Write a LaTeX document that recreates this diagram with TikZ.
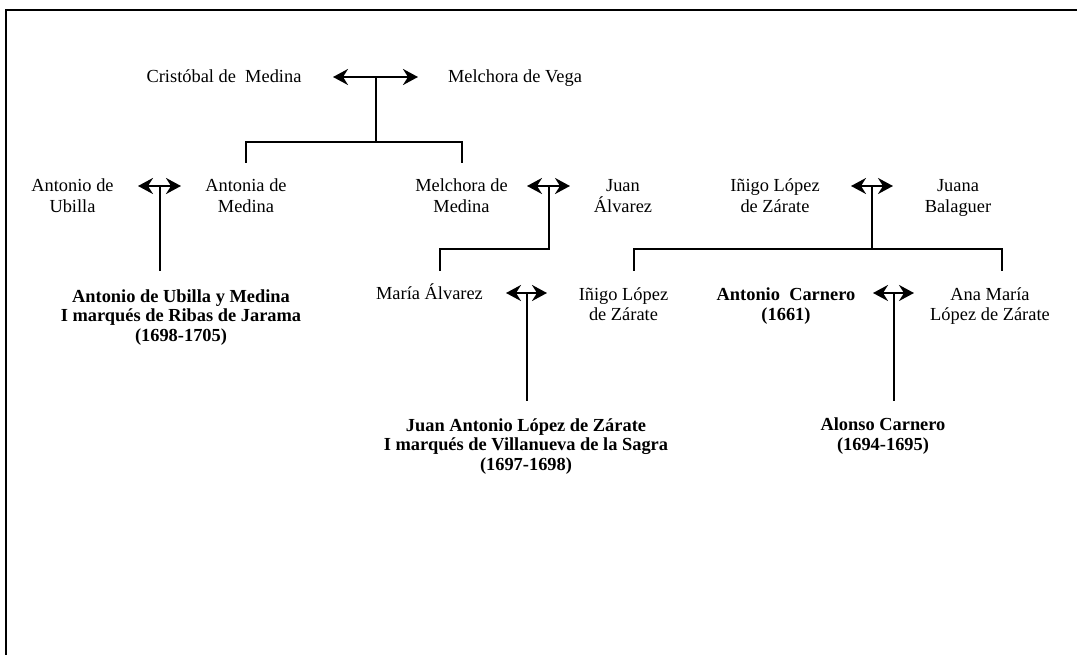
\documentclass[tikz,border=0pt]{standalone}
\usepackage{fontspec}
\setmainfont{Liberation Serif}
\usetikzlibrary{arrows.meta}
\begin{document}
\begin{tikzpicture}[x=1pt,y=-1pt,
  % the base anchor of a multi-line node sits on its last line
  person/.style={align=center,inner sep=0pt,anchor=base,
    font=\fontsize{18.4}{20.5}\selectfont},
  heir/.style={person,font=\fontsize{18.4}{19.7}\selectfont\bfseries},
  link/.style={line width=2pt},
  wed/.style={line width=2.2pt,
    {Stealth[length=15pt,width=16pt,inset=5pt]}-{Stealth[length=15pt,width=16pt,inset=5pt]}},
]
\useasboundingbox (0,0) rectangle (1077,655);
% page frame (top and left rules)
\draw[line width=2pt] (1080,10) -- (6,10) -- (6,658);

% ---- generation 1
\node[person] (cristobal) at (224,83) {Cristóbal de\ \ Medina};
\node[person] (melchoraV) at (515,83) {Melchora de Vega};
\coordinate (w1l) at (333,77);
\coordinate (w1r) at (418,77);
\coordinate (w1)  at (375.5,77);
\coordinate (b1)  at (375.5,142);
\coordinate (d1a) at (246,163);
\coordinate (d1b) at (462,163);
\draw[wed] (w1l) -- (w1r);
\draw[link] (w1) -- (b1);
\draw[link] (d1a) |- (b1) -| (d1b);

% ---- generation 2
\node[person] (ubilla)    at (72.5,212.5) {Antonio de\\Ubilla};
\node[person] (antonia)   at (246,212.5)  {Antonia de\\Medina};
\node[person] (melchoraM) at (461.5,212.5) {Melchora de\\Medina};
\node[person] (juanA)     at (623,212.5)  {Juan\\Álvarez};
\node[person] (inigo1)    at (775,212.5)  {Iñigo López\\de Zárate};
\node[person] (juana)     at (958,212.5)  {Juana\\Balaguer};

% Ubilla -- Antonia de Medina
\coordinate (w2l) at (138,186);
\coordinate (w2r) at (181,186);
\coordinate (w2)  at (160,186);
\coordinate (c2)  at (160,271);
\draw[wed] (w2l) -- (w2r);
\draw[link] (w2) -- (c2);

% Melchora de Medina -- Juan Alvarez
\coordinate (w3l) at (527,186);
\coordinate (w3r) at (570,186);
\coordinate (w3)  at (548.5,186);
\coordinate (b3)  at (548.5,249);
\coordinate (c3)  at (440,271);
\draw[wed] (w3l) -- (w3r);
\draw[link] (w3) -- (b3) -| (c3);

% Inigo Lopez -- Juana Balaguer
\coordinate (w4l) at (851,186);
\coordinate (w4r) at (893,186);
\coordinate (w4)  at (872,186);
\coordinate (b4)  at (872,249);
\coordinate (c4a) at (634,271);
\coordinate (c4b) at (1002,271);
\draw[wed] (w4l) -- (w4r);
\draw[link] (w4) -- (b4);
\draw[link] (c4a) |- (b4) -| (c4b);

% ---- generation 3
\node[heir]   (ubillaM) at (181,341.5) {Antonio de Ubilla y Medina\\I marqués de Ribas de Jarama\\(1698-1705)};
\node[person] (maria)   at (429.5,300) {María Álvarez};
\node[person] (inigo2)  at (623.5,320.5) {Iñigo López\\de Zárate};
\node[heir]   (carnero) at (786,320) {Antonio\ \ Carnero\\(1661)};
\node[person] (anamaria) at (990,320.5) {Ana María\\López de Zárate};

% Maria Alvarez -- Inigo Lopez
\coordinate (w5l) at (506,293);
\coordinate (w5r) at (547,293);
\coordinate (w5)  at (527,293);
\coordinate (c5)  at (527,401);
\draw[wed] (w5l) -- (w5r);
\draw[link] (w5) -- (c5);

% Antonio Carnero -- Ana Maria
\coordinate (w6l) at (873,293);
\coordinate (w6r) at (914,293);
\coordinate (w6)  at (894,293);
\coordinate (c6)  at (894,401);
\draw[wed] (w6l) -- (w6r);
\draw[link] (w6) -- (c6);

% ---- generation 4
\node[heir] (juanAL) at (526,470.5) {Juan Antonio López de Zárate\\I marqués de Villanueva de la Sagra\\(1697-1698)};
\node[heir] (alonso) at (883,450) {Alonso Carnero\\(1694-1695)};
\end{tikzpicture}
\end{document}
